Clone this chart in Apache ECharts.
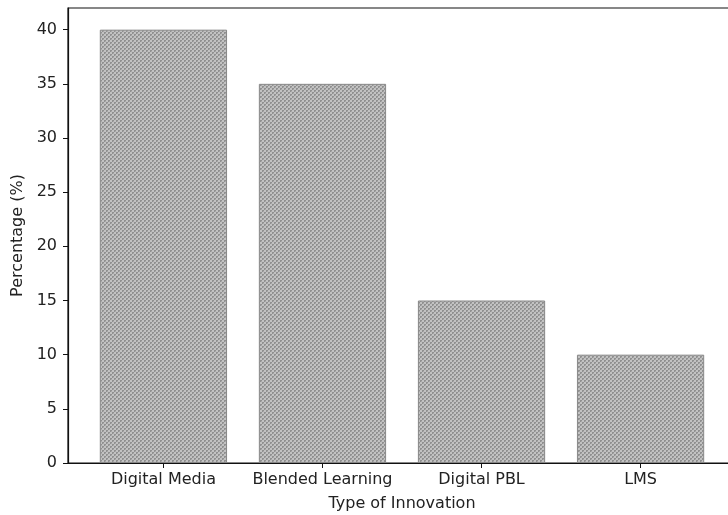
<!DOCTYPE html>
<html>
<head>
<meta charset="utf-8">
<script src="https://cdn.jsdelivr.net/npm/echarts@6/dist/echarts.min.js"></script>
<style>html,body{margin:0;padding:0;background:#fff}#c{width:728px;height:515px}</style>
</head>
<body>
<div id="c"></div>
<script>
const categories = ['Digital Media', 'Blended Learning', 'Digital PBL', 'LMS'];
const percentages = [40, 35, 15, 10];
const yTicks = [0, 5, 10, 15, 20, 25, 30, 35, 40];

function hatch() {
  const c = document.createElement('canvas');
  c.width = 4; c.height = 4;
  const g = c.getContext('2d');
  g.fillStyle = '#c2c2c2';
  g.fillRect(0, 0, 4, 4);
  g.fillStyle = '#909090';
  g.fillRect(0, 0, 2, 2);
  g.fillRect(2, 2, 2, 2);
  g.fillStyle = '#aaaaaa';
  g.fillRect(1, 1, 1, 1);
  g.fillRect(3, 3, 1, 1);
  return c;
}

const xIdx = categories.map((_, i) => i);
const chart = echarts.init(document.getElementById('c'), null, {renderer: 'canvas'});
const font = 'DejaVu Sans';
chart.setOption({
  animation: false,
  textStyle: {fontFamily: font},
  grid: {left: 68, width: 668, top: 8, bottom: 52, outerBoundsMode: 'none', containLabel: false,
    show: true, borderColor: '#111', borderWidth: 1.2, backgroundColor: 'transparent'},
  xAxis: {
    type: 'value', min: -0.6, max: 3.6,
    name: 'Type of Innovation', nameLocation: 'middle', nameGap: 33,
    nameTextStyle: {fontFamily: font, fontSize: 16, color: '#222'},
    axisLine: {show: true, onZero: false, lineStyle: {color: '#111', width: 1.2}},
    axisTick: {show: true, length: 5, customValues: xIdx, lineStyle: {color: '#111'}},
    axisLabel: {customValues: xIdx, margin: 9, fontFamily: font, fontSize: 16, color: '#222',
      formatter: v => categories[Math.round(v)] || ''},
    splitLine: {show: false}
  },
  yAxis: {
    type: 'value', min: 0, max: 42,
    name: 'Percentage (%)', nameLocation: 'middle', nameGap: 39,
    nameTextStyle: {fontFamily: font, fontSize: 16, color: '#222'},
    axisLine: {show: true, onZero: false, lineStyle: {color: '#111', width: 1.2}},
    axisTick: {show: true, length: 5, customValues: yTicks, lineStyle: {color: '#111'}},
    axisLabel: {customValues: yTicks, margin: 11, fontFamily: font, fontSize: 16, color: '#222'},
    splitLine: {show: false}
  },
  series: [{
    type: 'bar',
    barWidth: '80%',
    data: percentages.map((v, i) => [xIdx[i], v]),
    itemStyle: {color: {image: hatch(), repeat: 'repeat'}, borderColor: '#888', borderWidth: 1}
  }]
});
</script>
</body>
</html>
